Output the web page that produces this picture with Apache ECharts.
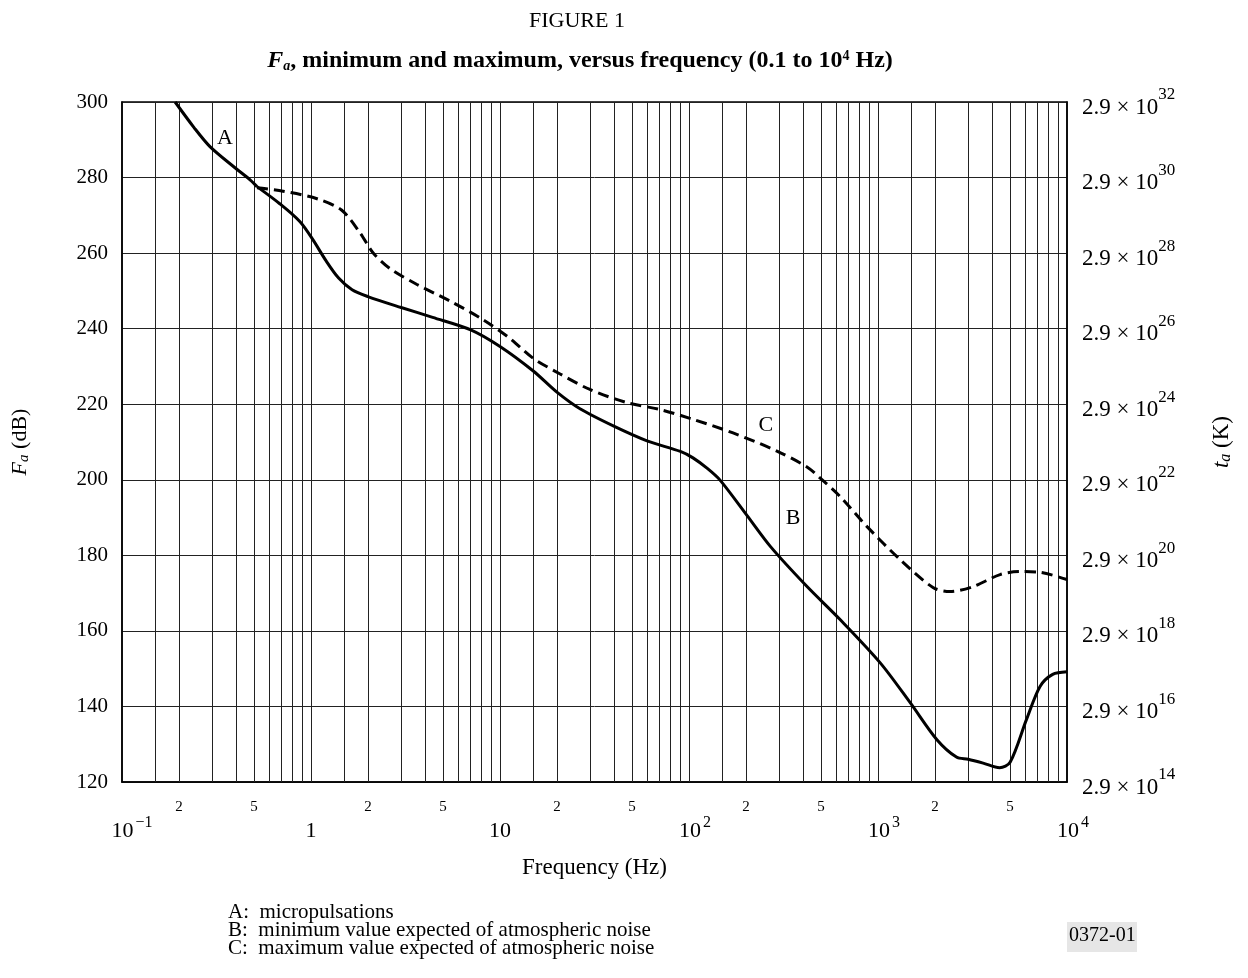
<!DOCTYPE html>
<html>
<head>
<meta charset="utf-8">
<script src="https://cdn.jsdelivr.net/npm/echarts@6/dist/echarts.min.js"></script>
<style>
html,body{margin:0;padding:0;background:#fff;}
#chart{width:1248px;height:978px;}
</style>
</head>
<body>
<div id="chart"></div>
<script>
// ---- data (frequency Hz, Fa dB) ----
var curveA = [
  [0.191, 300.0], [0.24, 293.3], [0.292, 288.2], [0.396, 282.6], [0.476, 279.4], [0.518, 277.6]
];
var curveB = [
  [0.518, 277.6], [0.686, 273.0], [0.875, 268.3], [1.025, 263.5], [1.2, 258.0], [1.4, 253.4],
  [1.65, 250.3], [2.0, 248.5], [3.0, 245.6], [4.4, 243.0], [7.0, 239.7], [10, 235.3],
  [15, 228.8], [20, 223.2], [26.5, 218.8], [40, 214.2], [60, 210.3], [90, 207.5],
  [105, 205.8], [125, 203.0], [146, 199.9], [203, 190.5], [270, 182.3], [420, 171.8],
  [630, 163.0], [1025, 151.6], [1480, 141.0], [2050, 131.2], [2600, 126.6], [3000, 126.0],
  [3600, 125.0], [4400, 123.8], [5000, 125.2], [6100, 136.5], [7200, 145.3], [8400, 148.5],
  [10000, 149.2]
];
var curveC = [
  [0.518, 277.3], [0.711, 276.4], [1.076, 274.4], [1.45, 271.4], [1.816, 265.4], [2.128, 260.1],
  [2.618, 255.9], [3.638, 251.7], [5.438, 247.3], [8.13, 242.4], [11.3, 237.4], [14.95, 232.2],
  [20.8, 228.0], [29.9, 223.9], [47.0, 220.4], [70.3, 218.6], [105, 216.0], [171, 212.4],
  [292, 207.6], [421, 203.4], [493, 200.5], [629.5, 195.6], [875, 187.6], [1307, 178.9],
  [1954, 171.5], [2404, 170.4], [3184, 171.7], [4424, 174.9], [5640, 175.7], [7197, 175.5],
  [10000, 173.6]
];
// vertical grid lines (per decade multipliers) and minor tick labels
var gridMultipliers = [1, 1.5, 2, 3, 4, 5, 6, 7, 8, 9];
var decades = [0.1, 1, 10, 100, 1000];
var minorLabelMultipliers = { 2: '2', 5: '5' };
var decadeLabels = {
  '-1': '{padM| }10{sup|−1}', '0': '1{supz| }', '1': '10{supz| }',
  '2': '{padS| }10{sup|2}', '3': '{padS| }10{sup|3}', '4': '{padS| }10{sup|4}'
};
var leftTicks = [120, 140, 160, 180, 200, 220, 240, 260, 280, 300];
var rightExponents = [14, 16, 18, 20, 22, 24, 26, 28, 30, 32];
var curveLabels = [
  { name: 'A', coord: [0.351, 290.3] },
  { name: 'B', coord: [355, 189.8] },
  { name: 'C', coord: [255, 214.4] }
];
var legendLines = [
  'A:  micropulsations',
  'B:  minimum value expected of atmospheric noise',
  'C:  maximum value expected of atmospheric noise'
];

// build vertical grid line data
var vLines = [];
decades.forEach(function (d) {
  gridMultipliers.forEach(function (m) {
    if (m === 1 && d === 0.1) return;
    var v = +(d * m).toPrecision(6);
    vLines.push({ xAxis: v, label: { formatter: minorLabelMultipliers[m] || '' } });
  });
});

var FONT = '"Liberation Serif", "DejaVu Serif", serif';
var chart = echarts.init(document.getElementById('chart'), null, { renderer: 'canvas' });

var option = {
  animation: false,
  backgroundColor: '#fff',
  title: [
    {
      text: 'FIGURE 1', left: 572, top: 5, textAlign: 'center',
      textStyle: { fontFamily: FONT, fontSize: 22, fontWeight: 'normal', color: '#000' }
    },
    {
      text: '{fi|F}{sub|a}{b|, minimum and maximum, versus frequency (0.1 to 10}{sup|4}{b| Hz)}',
      left: 575, top: 44, textAlign: 'center',
      textStyle: {
        fontFamily: FONT, fontSize: 24, fontWeight: 'bold', color: '#000',
        rich: {
          fi: { fontFamily: FONT, fontSize: 24, fontWeight: 'bold', fontStyle: 'italic', color: '#000' },
          sub: { fontFamily: FONT, fontSize: 14, fontWeight: 'bold', fontStyle: 'italic', color: '#000', padding: [10, 0, 0, 0] },
          b: { fontFamily: FONT, fontSize: 24, fontWeight: 'bold', color: '#000' },
          sup: { fontFamily: FONT, fontSize: 14, fontWeight: 'bold', color: '#000', padding: [0, 0, 10, 0] }
        }
      }
    }
  ],
  grid: {
    left: 122, right: 181, top: 102, bottom: 196,
    show: true, borderColor: '#000', borderWidth: 1.5, backgroundColor: 'transparent'
  },
  xAxis: {
    type: 'log', logBase: 10, min: 0.1, max: 10000,
    name: 'Frequency (Hz)', nameLocation: 'middle', nameGap: 74,
    nameTextStyle: { fontFamily: FONT, fontSize: 23, color: '#000' },
    axisLine: { show: true, lineStyle: { color: '#000', width: 1.5 } },
    axisTick: { show: false },
    splitLine: { show: false },
    axisLabel: {
      margin: 33,
      fontFamily: FONT, fontSize: 22, color: '#000',
      formatter: function (v) {
        var e = Math.round(Math.log10(v));
        return decadeLabels[String(e)] || '';
      },
      rich: {
        sup: { fontFamily: FONT, fontSize: 16, color: '#000', padding: [0, 0, 17, 2] },
        supz: { fontFamily: FONT, fontSize: 16, color: '#000', width: 0, padding: [0, 0, 17, 0] },
        padS: { fontSize: 16, width: 12 },
        padM: { fontSize: 16, width: 20 }
      }
    }
  },
  yAxis: [
    {
      type: 'value', min: 120, max: 300, interval: 20, position: 'left',
      name: '{fi|F}{sub|a}{n| (dB)}', nameLocation: 'middle', nameGap: 90, nameRotate: 90,
      nameTextStyle: {
        fontFamily: FONT, fontSize: 22, color: '#000',
        rich: {
          fi: { fontFamily: FONT, fontSize: 22, fontStyle: 'italic', color: '#000' },
          sub: { fontFamily: FONT, fontSize: 15, fontStyle: 'italic', color: '#000', padding: [9, 0, 0, 0] },
          n: { fontFamily: FONT, fontSize: 22, color: '#000' }
        }
      },
      axisLine: { show: true, lineStyle: { color: '#000', width: 1.5 } },
      axisTick: { show: false },
      splitLine: { show: true, lineStyle: { color: '#222', width: 1 } },
      axisLabel: {
        margin: 14, fontFamily: FONT, fontSize: 21, color: '#000',
        formatter: function (v) { return leftTicks.indexOf(v) >= 0 ? String(v) : ''; }
      }
    },
    {
      type: 'value', min: 120, max: 300, interval: 20, position: 'right',
      name: '{fi|t}{sub|a}{n| (K)}', nameLocation: 'middle', nameGap: 142, nameRotate: 90,
      nameTextStyle: {
        fontFamily: FONT, fontSize: 23, color: '#000',
        rich: {
          fi: { fontFamily: FONT, fontSize: 23, fontStyle: 'italic', color: '#000' },
          sub: { fontFamily: FONT, fontSize: 16, fontStyle: 'italic', color: '#000', padding: [9, 0, 0, 0] },
          n: { fontFamily: FONT, fontSize: 23, color: '#000' }
        }
      },
      axisLine: { show: true, lineStyle: { color: '#000', width: 1.5 } },
      axisTick: { show: false },
      splitLine: { show: false },
      axisLabel: {
        margin: 15, fontFamily: FONT, fontSize: 23, color: '#000',
        padding: [11, 0, 0, 0],
        formatter: function (v) {
          var i = leftTicks.indexOf(v);
          return i >= 0 ? '2.9 × 10{sup|' + rightExponents[i] + '}' : '';
        },
        rich: {
          sup: { fontFamily: FONT, fontSize: 17, color: '#000', padding: [0, 0, 25, 0] }
        }
      }
    }
  ],
  series: [
    {
      name: 'grid', type: 'line', data: [], silent: true,
      markLine: {
        silent: true, symbol: 'none', animation: false,
        lineStyle: { color: '#222', width: 1, type: 'solid' },
        label: {
          show: true, position: 'start', distance: 18,
          fontFamily: FONT, fontSize: 15, color: '#000'
        },
        emphasis: { disabled: true },
        data: vLines
      }
    },
    {
      name: 'A', type: 'line', data: curveA, smooth: 0.3, showSymbol: false,
      lineStyle: { color: '#000', width: 3 }, z: 5
    },
    {
      name: 'B', type: 'line', data: curveB, smooth: 0.3, showSymbol: false,
      lineStyle: { color: '#000', width: 3 }, z: 5,
      markPoint: {
        silent: true, symbol: 'circle', symbolSize: 1,
        itemStyle: { color: 'rgba(0,0,0,0)' },
        label: {
          show: true, position: 'inside', formatter: '{b}', opacity: 1,
          fontFamily: FONT, fontSize: 22, color: '#000'
        },
        emphasis: { disabled: true },
        data: curveLabels
      }
    },
    {
      name: 'C', type: 'line', data: curveC, smooth: 0.3, showSymbol: false,
      lineStyle: { color: '#000', width: 3, type: [11, 6] }, z: 5
    }
  ],
  graphic: [
    {
      type: 'text', left: 228, top: 902,
      style: {
        text: legendLines.join('\n'), font: '21px ' + FONT, fill: '#000', lineHeight: 18
      }
    },
    {
      type: 'rect', left: 1067, top: 922,
      shape: { width: 70, height: 30 }, style: { fill: '#e6e6e6' }
    },
    {
      type: 'text', left: 1069, top: 926,
      style: { text: '0372-01', font: '20px ' + FONT, fill: '#000' }
    }
  ]
};
chart.setOption(option);
</script>
</body>
</html>
